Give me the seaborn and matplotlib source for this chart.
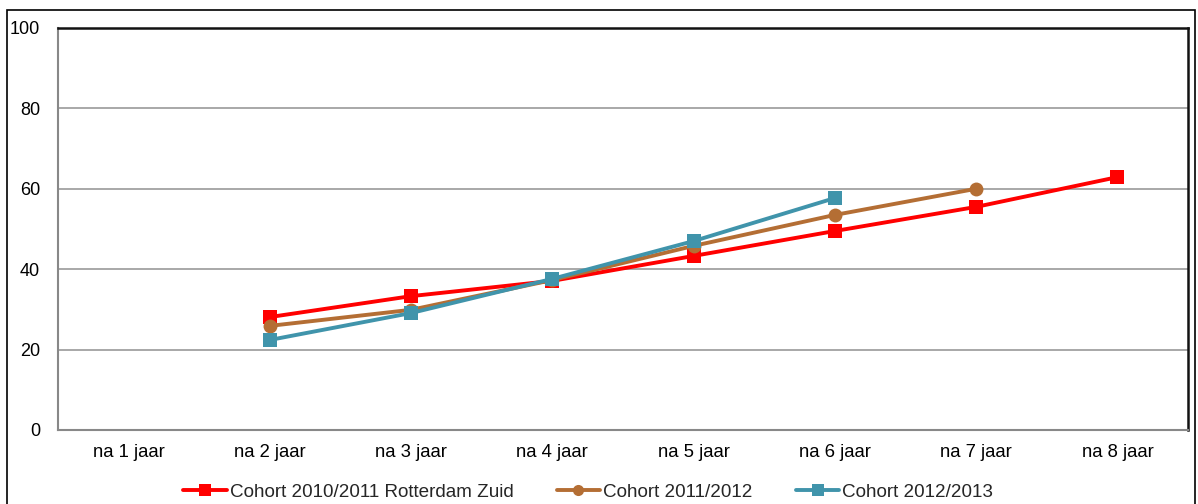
import numpy as np
import pandas as pd
import matplotlib
matplotlib.use("Agg")
import matplotlib.pyplot as plt
from matplotlib.patches import Rectangle
from matplotlib.lines import Line2D
import seaborn as sns

categories = ["na 1 jaar", "na 2 jaar", "na 3 jaar", "na 4 jaar",
              "na 5 jaar", "na 6 jaar", "na 7 jaar", "na 8 jaar"]
series_names = ["Cohort 2010/2011 Rotterdam Zuid", "Cohort 2011/2012", "Cohort 2012/2013"]
cohort_2010 = [np.nan, 28.1, 33.3, 37.1, 43.3, 49.5, 55.5, 62.9]
cohort_2011 = [np.nan, 25.9, 29.9, 37.3, 45.8, 53.5, 60.0, np.nan]
cohort_2012 = [np.nan, 22.4, 29.1, 37.6, 47.0, 57.7, np.nan, np.nan]
y_ticks = [0, 20, 40, 60, 80, 100]

colors = ["#FF0000", "#B46E34", "#4094AB"]
markers = ["s", "o", "s"]

rows = []
for name, vals in zip(series_names, [cohort_2010, cohort_2011, cohort_2012]):
    for i, v in enumerate(vals):
        if not np.isnan(v):
            rows.append({"pos": i, "value": v, "series": name})
df = pd.DataFrame(rows)

sns.set_theme(style="white")
plt.rcParams["font.family"] = ["Liberation Sans", "DejaVu Sans"]

fig = plt.figure(figsize=(11.98, 5.04), dpi=100)
ax = fig.add_axes([58/1198, 74/504, 1130/1198, 402/504])

palette = dict(zip(series_names, colors))
mk = dict(zip(series_names, markers))
sns.lineplot(data=df, x="pos", y="value", hue="series", style="series",
             palette=palette, markers=mk, dashes=False, linewidth=2.8,
             markersize=10, markeredgewidth=0, ax=ax, legend=False, zorder=3)

ax.set_xlim(-0.5, len(categories) - 0.5)
ax.set_ylim(0, 100)
ax.set_yticks(y_ticks)
ax.set_yticklabels([str(t) for t in y_ticks], fontsize=13)
ax.set_xticks(range(len(categories)))
ax.set_xticklabels(categories, fontsize=13.3)
ax.set_xticks(np.arange(-0.5, len(categories), 1.0), minor=True)
ax.tick_params(axis="x", which="major", length=0, pad=10, colors="black")
ax.tick_params(axis="x", which="minor", length=5, width=1, color="#888888", direction="out")
ax.tick_params(axis="y", which="major", length=5, width=1, color="#888888",
               direction="out", pad=8, labelcolor="black")
ax.set_xlabel("")
ax.set_ylabel("")
ax.yaxis.grid(True, color="#999999", linewidth=1.2)
ax.xaxis.grid(False)
ax.set_axisbelow(True)
for s in ["left", "bottom"]:
    ax.spines[s].set_color("#888888")
    ax.spines[s].set_linewidth(1.5)
for s in ["top", "right"]:
    ax.spines[s].set_color("#111111")
    ax.spines[s].set_linewidth(1.8)

handles = [Line2D([0], [0], color=c, marker=m, linewidth=2.8, markersize=8, markeredgewidth=0)
           for c, m in zip(colors, markers)]
fig.legend(handles, series_names, loc="center", bbox_to_anchor=(0.491, 12/504),
           ncol=3, frameon=False, fontsize=13.6, handlelength=2.3, columnspacing=2.3,
           handletextpad=0.15, borderpad=0)

fig.patches.append(Rectangle((7/1198, -0.05), 1188/1198, (504-10)/504 + 0.05,
                             transform=fig.transFigure, fill=False,
                             edgecolor="black", linewidth=1.2))

fig.savefig("out.png", dpi=100)
